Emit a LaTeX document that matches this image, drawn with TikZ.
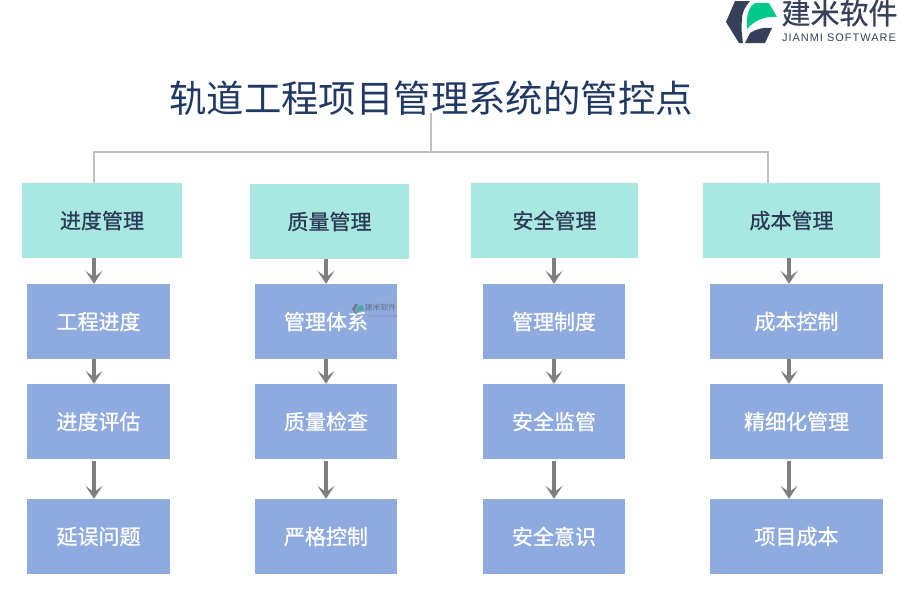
\documentclass[tikz,border=0pt]{standalone}
\usepackage{fontspec}
\setmainfont{Noto Sans CJK SC}
\setsansfont{Liberation Sans}
\newfontfamily\boxfont[FakeBold=0.7]{Noto Sans CJK SC}
\newfontfamily\logofont[LetterSpace=9]{Liberation Sans}
\usepackage{tikz}
\usetikzlibrary{arrows.meta,positioning,calc}
\definecolor{navy}{HTML}{1F3864}
\definecolor{inkdark}{HTML}{2B3A55}
\definecolor{headteal}{HTML}{A8E8E1}
\definecolor{itemblue}{HTML}{8FAADF}
\definecolor{logodark}{HTML}{36405A}
\definecolor{logogreen}{HTML}{00C98A}
\definecolor{treegray}{HTML}{BFBFBF}
\definecolor{flowgray}{HTML}{7F7F7F}
\tikzset{
  head/.style={fill=headteal, text=inkdark, font=\boxfont\fontsize{21}{25}\selectfont, inner sep=0pt},
  item/.style={fill=itemblue, text=white, font=\boxfont\fontsize{21}{25}\selectfont, inner sep=0pt},
  tree/.style={draw=treegray, line width=2pt},
  flow/.style={draw=flowgray, line width=3.5pt, -{Stealth[length=13pt,width=17pt,inset=6.5pt]}},
}
\begin{document}
\begin{tikzpicture}[x=1pt,y=-1pt]
  \useasboundingbox (0,0) rectangle (900,600);
  % title and tree
  \node[navy, font=\fontsize{37.4}{40}\selectfont, inner sep=0pt] (title) at (431,98) {轨道工程项目管理系统的管控点};
  % headers
  \node[head, minimum width=160pt, minimum height=75pt] (h1) at (102,220.5) {进度管理};
  \node[head, minimum width=159pt, minimum height=75pt] (h2) at (329.5,221.5) {质量管理};
  \node[head, minimum width=167pt, minimum height=75pt] (h3) at (554.5,220.5) {安全管理};
  \node[head, minimum width=177pt, minimum height=75pt] (h4) at (791.5,220.5) {成本管理};
  % column 1
  \node[item, minimum width=143pt, minimum height=75pt] (a1) at (98.5,321.5) {工程进度};
  \node[item, minimum width=143pt, minimum height=75pt] (a2) at (98.5,421.5) {进度评估};
  \node[item, minimum width=143pt, minimum height=75pt] (a3) at (98.5,536.5) {延误问题};
  % column 2
  \node[item, minimum width=142pt, minimum height=75pt] (b1) at (326,321.5) {管理体系};
  \node[item, minimum width=142pt, minimum height=75pt] (b2) at (326,421.5) {质量检查};
  \node[item, minimum width=142pt, minimum height=75pt] (b3) at (326,536.5) {严格控制};
  % column 3
  \node[item, minimum width=142pt, minimum height=75pt] (c1) at (554,321.5) {管理制度};
  \node[item, minimum width=142pt, minimum height=75pt] (c2) at (554,421.5) {安全监管};
  \node[item, minimum width=142pt, minimum height=75pt] (c3) at (554,536.5) {安全意识};
  % column 4
  \node[item, minimum width=173pt, minimum height=75pt] (d1) at (796.5,321.5) {成本控制};
  \node[item, minimum width=173pt, minimum height=75pt] (d2) at (796.5,421.5) {精细化管理};
  \node[item, minimum width=173pt, minimum height=75pt] (d3) at (796.5,536.5) {项目成本};
  % tree lines
  \coordinate (bus) at (431,152);
  \coordinate (ax1) at (94,0);
  \coordinate (ax2) at (326,0);
  \coordinate (ax3) at (554,0);
  \coordinate (ax4) at (789,0);
  \coordinate (dr4) at (768,0);
  \draw[tree] (431,113) -- (bus);
  \draw[tree] (h1.north -| ax1) |- (bus) -| (h4.north -| dr4);
  % arrows
  \draw[flow] (h1.south -| ax1) -- (a1.north -| ax1);
  \draw[flow] (a1.south -| ax1) -- (a2.north -| ax1);
  \draw[flow] ($(a2.south -| ax1)+(0,2)$) -- (a3.north -| ax1);
  \draw[flow] (h2.south -| ax2) -- (b1.north -| ax2);
  \draw[flow] (b1.south -| ax2) -- (b2.north -| ax2);
  \draw[flow] ($(b2.south -| ax2)+(0,2)$) -- (b3.north -| ax2);
  \draw[flow] (h3.south -| ax3) -- (c1.north -| ax3);
  \draw[flow] (c1.south -| ax3) -- (c2.north -| ax3);
  \draw[flow] ($(c2.south -| ax3)+(0,2)$) -- (c3.north -| ax3);
  \draw[flow] (h4.south -| ax4) -- (d1.north -| ax4);
  \draw[flow] (d1.south -| ax4) -- (d2.north -| ax4);
  \draw[flow] ($(d2.south -| ax4)+(0,2)$) -- (d3.north -| ax4);
  % logo
  \fill[logodark] (735,1) -- (750,1) .. controls (745,7) and (742,12) .. (742,20) .. controls (741,28) and (742,36) .. (743,43) -- (739,43) -- (726,22) -- cycle;
  \fill[logodark] (745,43) -- (750,33) .. controls (756,29) and (764,27) .. (772,28) -- (765,43) -- cycle;
  \fill[logogreen] (747,29) .. controls (746,15) and (749,5) .. (756,3) -- (769,3) -- (777,17) .. controls (765,16) and (755,20) .. (747,29) -- cycle;
  \node[logodark, font=\boxfont\fontsize{29}{31}\selectfont, inner sep=0pt] (brand) at (839.5,13) {建米软件};
  \node[logodark, font=\logofont\fontsize{11}{12}\selectfont, inner sep=0pt] (brandsub) at (839,38) {JIANMI SOFTWARE};
  % watermark
  \fill[logodark!70] (352,309) -- (355,304) -- (358,304) -- (355,310) -- (357,316) -- cycle;
  \fill[teal!70] (356,314) .. controls (356,308) and (358,305) .. (362,305) -- (364,310) .. controls (361,310) and (358,311) .. (356,314) -- cycle;
  \node[logodark!75, font=\fontsize{7.8}{9}\selectfont, inner sep=0pt] (mark) at (380.5,308) {建米软件};
  \node[logodark!60, font=\sffamily\fontsize{3.2}{4}\selectfont, inner sep=0pt] (marksub) at (383,316) {JIANMI SOFTWARE};
\end{tikzpicture}
\end{document}
